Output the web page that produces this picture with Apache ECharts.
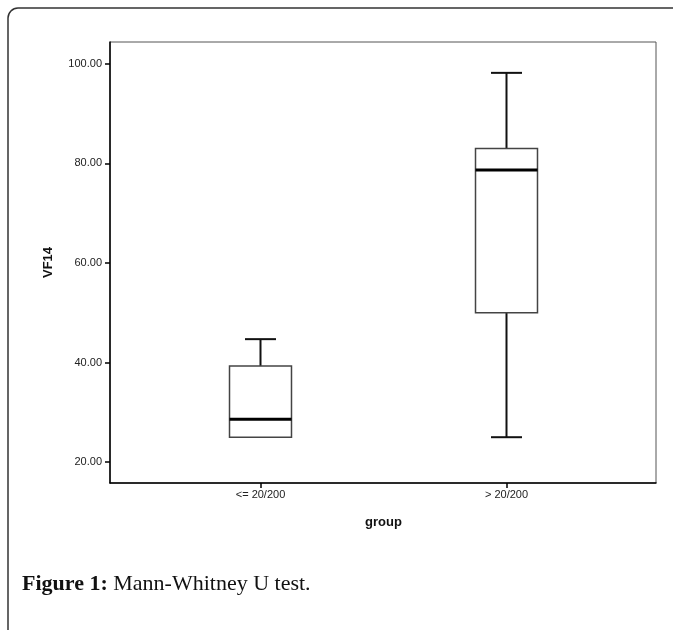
<!DOCTYPE html>
<html>
<head>
<meta charset="utf-8">
<script src="https://cdn.jsdelivr.net/npm/echarts@6/dist/echarts.min.js"></script>
<style>
html,body{margin:0;padding:0;background:#fff;}
#chart{width:673px;height:630px;}
</style>
</head>
<body>
<div id="chart"></div>
<script>
// ---- data ----
const categories = ['<= 20/200', '> 20/200'];
const mins    = [25.0, 25.0];
const q1s     = [25.0, 50.0];
const medians = [28.6, 78.7];
const q3s     = [39.3, 83.0];
const maxs    = [44.7, 98.2];
const yTicks  = [20, 40, 60, 80, 100];
const yMin = 15.8, yMax = 104.4;

const boxData = categories.map((c, i) => [i, mins[i], q1s[i], medians[i], q3s[i], maxs[i]]);

const chart = echarts.init(document.getElementById('chart'), null, {renderer: 'canvas'});

function renderBox(params, api) {
  const xi = api.value(0);
  const vMin = api.value(1), vQ1 = api.value(2), vMed = api.value(3), vQ3 = api.value(4), vMax = api.value(5);
  const pMin = api.coord([xi, vMin]);
  const pQ1 = api.coord([xi, vQ1]);
  const pMed = api.coord([xi, vMed]);
  const pQ3 = api.coord([xi, vQ3]);
  const pMax = api.coord([xi, vMax]);
  const band = api.size([1, 0])[0];
  const hw = band * 0.126;
  const cx = pMed[0];
  const children = [];
  const whisk = {stroke: '#111', lineWidth: 2};
  if (vMax > vQ3) {
    children.push({type: 'line', shape: {x1: cx, y1: pQ3[1], x2: cx, y2: pMax[1]}, style: whisk});
    children.push({type: 'line', shape: {x1: cx - hw / 2, y1: pMax[1], x2: cx + hw / 2, y2: pMax[1]}, style: whisk});
  }
  if (vMin < vQ1) {
    children.push({type: 'line', shape: {x1: cx, y1: pQ1[1], x2: cx, y2: pMin[1]}, style: whisk});
    children.push({type: 'line', shape: {x1: cx - hw / 2, y1: pMin[1], x2: cx + hw / 2, y2: pMin[1]}, style: whisk});
  }
  children.push({type: 'rect', shape: {x: cx - hw, y: pQ3[1], width: 2 * hw, height: pQ1[1] - pQ3[1]},
    style: {fill: '#fff', stroke: '#444', lineWidth: 1.5}});
  children.push({type: 'line', shape: {x1: cx - hw, y1: pMed[1], x2: cx + hw, y2: pMed[1]},
    style: {stroke: '#000', lineWidth: 3}});
  return {type: 'group', children: children};
}

const gridTop = 42, gridBottomY = 483;
const option = {
  animation: false,
  backgroundColor: '#fff',
  graphic: [{
    type: 'rect', z: 0, silent: true,
    shape: {x: 8, y: 8, width: 720, height: 720, r: 10},
    style: {fill: 'none', stroke: '#333', lineWidth: 1.5}
  }],
  title: {
    left: 17, top: 568,
    text: '{b|Figure 1:} Mann-Whitney U test.',
    textStyle: {
      fontFamily: 'Liberation Serif', fontSize: 22, fontWeight: 'normal', color: '#111',
      rich: {b: {fontFamily: 'Liberation Serif', fontSize: 22, fontWeight: 'bold', color: '#111'}}
    }
  },
  grid: [
    {left: 110, top: gridTop, width: 546, height: gridBottomY - gridTop, show: true, borderColor: '#555', borderWidth: 1, backgroundColor: 'transparent'},
    {left: 137.5, top: gridTop, width: 492, height: gridBottomY - gridTop}
  ],
  xAxis: [
    {gridIndex: 0, type: 'value', min: 0, max: 1, axisLine: {show: true, onZero: false, lineStyle: {color: '#000', width: 1.5}},
     axisTick: {show: false}, axisLabel: {show: false}, splitLine: {show: false}},
    {gridIndex: 1, type: 'category', data: categories, boundaryGap: true,
     axisLine: {show: false},
     axisTick: {show: true, alignWithLabel: true, length: 5, lineStyle: {color: '#000', width: 1.5}},
     axisLabel: {margin: 6, fontFamily: 'Liberation Sans', fontSize: 11, color: '#222'},
     name: 'group', nameLocation: 'middle', nameGap: 33,
     nameTextStyle: {fontFamily: 'Liberation Sans', fontSize: 13, fontWeight: 'bold', color: '#111'}}
  ],
  yAxis: [
    {gridIndex: 0, type: 'value', min: yMin, max: yMax,
     axisLine: {show: true, lineStyle: {color: '#000', width: 1.5}},
     axisTick: {show: true, length: 5, customValues: yTicks, lineStyle: {color: '#000', width: 1.5}},
     axisLabel: {show: true, customValues: yTicks, margin: 8, fontFamily: 'Liberation Sans', fontSize: 11, color: '#222',
       formatter: v => Number(v).toFixed(2)},
     splitLine: {show: false},
     name: 'VF14', nameLocation: 'middle', nameGap: 55, nameRotate: 90,
     nameTextStyle: {fontFamily: 'Liberation Sans', fontSize: 13, fontWeight: 'bold', color: '#111'}},
    {gridIndex: 1, type: 'value', min: yMin, max: yMax, show: false}
  ],
  series: [{
    type: 'custom', xAxisIndex: 1, yAxisIndex: 1,
    renderItem: renderBox,
    encode: {x: 0, y: [1, 2, 3, 4, 5]},
    data: boxData,
    clip: false
  }]
};
chart.setOption(option);
</script>
</body>
</html>
